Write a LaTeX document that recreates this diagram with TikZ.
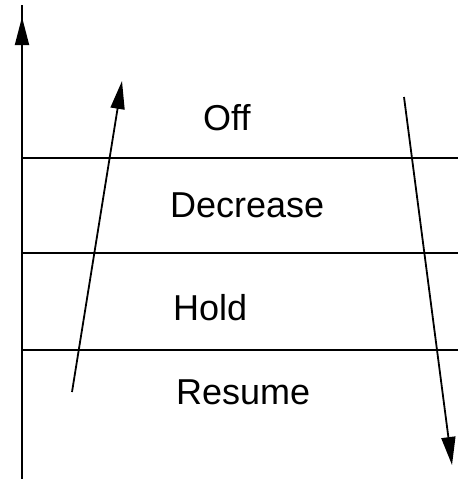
\documentclass[tikz,border=0pt]{standalone}
\usepackage{fontspec}
\setmainfont{Liberation Sans}
\usetikzlibrary{arrows.meta}
\tikzset{
  statelab/.style={font=\fontsize{36}{40}\selectfont, inner sep=0pt, anchor=base west},
  rule/.style={line width=1.8pt},
  flow/.style={line width=1.8pt, -{Triangle[length=28pt, width=14pt]}}
}

\begin{document}
\begin{tikzpicture}[x=1pt, y=-1pt]
  \useasboundingbox (0,0) rectangle (458,479);

  % Vertical axis
  \coordinate (axisbot) at (22,479);
  \coordinate (axistop) at (22,5);
  \coordinate (axishead) at (22,17);
  \draw[rule] (axisbot) -- (axistop);
  \draw[flow] (axisbot) -- (axishead);

  % Level boundaries
  \foreach \y/\n in {158/a, 253/b, 350/c}{
    \coordinate (l\n) at (22,\y);
    \coordinate (r\n) at (458,\y);
    \draw[rule] (l\n) -- (r\n);
  }

  % State labels
  \node[statelab] (off) at (203,130) {Off};
  \node[statelab] (decrease) at (170,217) {Decrease};
  \node[statelab] (hold) at (173,320) {Hold};
  \node[statelab] (resume) at (176,404) {Resume};

  % Up and down arrows
  \coordinate (upstart) at (72,392);
  \coordinate (upend) at (122,81);
  \coordinate (downstart) at (404,97);
  \coordinate (downend) at (452,465);
  \draw[flow] (upstart) -- (upend);
  \draw[flow] (downstart) -- (downend);
\end{tikzpicture}
\end{document}
